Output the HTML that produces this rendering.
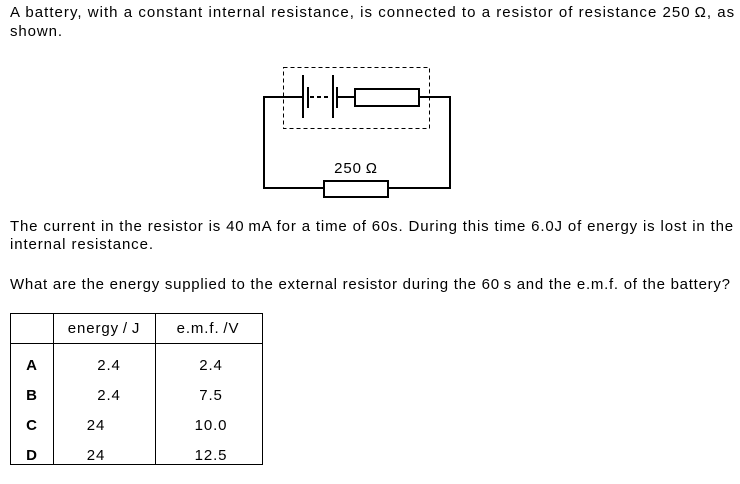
<!DOCTYPE html>
<html><head><style>
body{margin:0;width:740px;height:484px;background:#fff;font-family:"Liberation Sans",Arial,sans-serif;font-size:15px;letter-spacing:0.9px;color:#000;position:relative;overflow:hidden}
.t{position:absolute;left:10px;white-space:nowrap;line-height:18px}
.c{position:absolute;white-space:nowrap;font-size:15px;line-height:16px;transform:translate(-50%,-50%)}
</style></head><body>
<div class="t" style="top:4px;letter-spacing:1.03px">A battery, with a constant internal resistance, is connected to a resistor of resistance 250&thinsp;Ω, as</div>
<div class="t" style="top:23px">shown.</div>
<div class="t" style="top:218px;letter-spacing:0.84px">The current in the resistor is 40&thinsp;mA for a time of 60s. During this time 6.0J of energy is lost in the</div>
<div class="t" style="top:236px">internal resistance.</div>
<div class="t" style="top:276px;letter-spacing:0.74px">What are the energy supplied to the external resistor during the 60&thinsp;s and the e.m.f. of the battery?</div>
<svg width="740" height="484" style="position:absolute;left:0;top:0">
<g stroke="#000" fill="none">
<rect x="283.5" y="67.5" width="146" height="61" stroke-dasharray="4,3" stroke-width="1"/>
<g stroke-width="2">
<polyline points="303,97 264,97 264,188 324,188"/>
<polyline points="388,188 450,188 450,97 419,97"/>
<line x1="303" y1="75" x2="303" y2="118"/>
<line x1="308" y1="87" x2="308" y2="108"/>
<line x1="310" y1="97" x2="331" y2="97" stroke-dasharray="4,3"/>
<line x1="333" y1="75" x2="333" y2="118"/>
<line x1="337" y1="87" x2="337" y2="108"/>
<line x1="338" y1="97" x2="355" y2="97"/>
<rect x="355" y="89" width="64" height="17"/>
<rect x="324" y="181" width="64" height="16"/>
</g>
<g stroke-width="1">
<rect x="10.5" y="313.5" width="252" height="151"/>
<line x1="53.5" y1="313" x2="53.5" y2="465"/>
<line x1="155.5" y1="313" x2="155.5" y2="465"/>
<line x1="10" y1="343.5" x2="263" y2="343.5"/>
</g>
</g>
</svg>
<div class="c" style="left:356px;top:169px">250&thinsp;Ω</div>
<div class="c" style="left:104px;top:329px">energy&thinsp;/&thinsp;J</div>
<div class="c" style="left:208px;top:329px">e.m.f.&thinsp;/V</div>
<div class="c" style="left:32px;top:366px;font-weight:bold">A</div>
<div class="c" style="left:32px;top:396px;font-weight:bold">B</div>
<div class="c" style="left:32px;top:426px;font-weight:bold">C</div>
<div class="c" style="left:32px;top:456px;font-weight:bold">D</div>
<div class="c" style="left:109px;top:366px">2.4</div>
<div class="c" style="left:109px;top:396px">2.4</div>
<div class="c" style="left:96px;top:426px">24</div>
<div class="c" style="left:96px;top:456px">24</div>
<div class="c" style="left:211px;top:366px">2.4</div>
<div class="c" style="left:211px;top:396px">7.5</div>
<div class="c" style="left:211px;top:426px">10.0</div>
<div class="c" style="left:211px;top:456px">12.5</div>
</body></html>
